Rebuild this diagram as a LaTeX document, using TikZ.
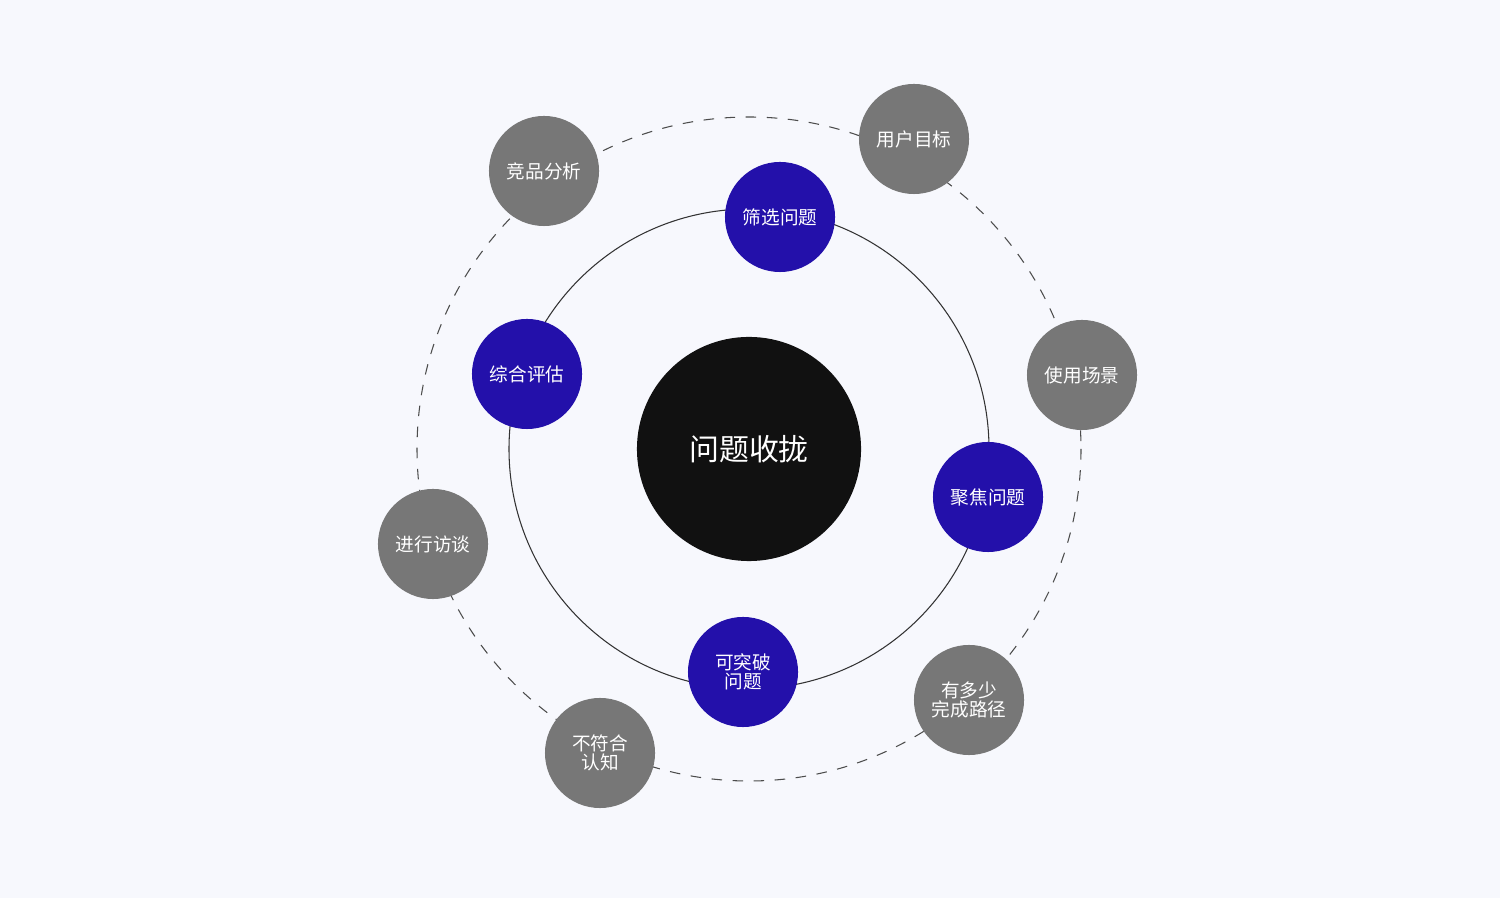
\documentclass[tikz,border=0pt]{standalone}
\usepackage{fontspec}
\setmainfont{Noto Sans CJK SC}
\definecolor{bgc}{HTML}{F7F8FD}
\definecolor{stepblue}{HTML}{2310AA}
\definecolor{topicgray}{HTML}{777777}
\definecolor{corec}{HTML}{111111}
\tikzset{
  inner/.style={circle,fill=stepblue,text=white,minimum size=1.1cm,inner sep=0pt,align=center,font=\fontsize{5.3}{5.6}\selectfont},
  outer/.style={circle,fill=topicgray,text=white,minimum size=1.1cm,inner sep=0pt,align=center,font=\fontsize{5.3}{5.6}\selectfont}
}
\begin{document}
\begin{tikzpicture}[x=0.01cm,y=-0.01cm]
	\fill[bgc] (0,0) rectangle (1500,898);
	\useasboundingbox (0,0) rectangle (1500,898);
	\coordinate (c) at (749,449);
	\draw[black!80,line width=0.3pt] (c) circle[radius=240];
	\draw[black!70,dashed,line width=0.3pt] (c) circle[radius=332];
	\node[circle,fill=corec,text=white,minimum size=2.24cm,inner sep=0pt,font=\fontsize{8.5}{9}\selectfont] (core) at (c) {问题收拢};
	% inner ring
	\node[inner] (filter) at (780,217) {筛选问题};
	\node[inner] (assess) at (527,374) {综合评估};
	\node[inner] (focus) at (988,497) {聚焦问题};
	\node[inner] (breach) at (743,672) {可突破\\问题};
	% outer ring
	\node[outer] (compete) at (544,171) {竞品分析};
	\node[outer] (goal) at (914,139) {用户目标};
	\node[outer] (scene) at (1082,375) {使用场景};
	\node[outer] (paths) at (969,700) {有多少\\完成路径};
	\node[outer] (cognit) at (600,753) {不符合\\认知};
	\node[outer] (talk) at (433,544) {进行访谈};
\end{tikzpicture}
\end{document}
